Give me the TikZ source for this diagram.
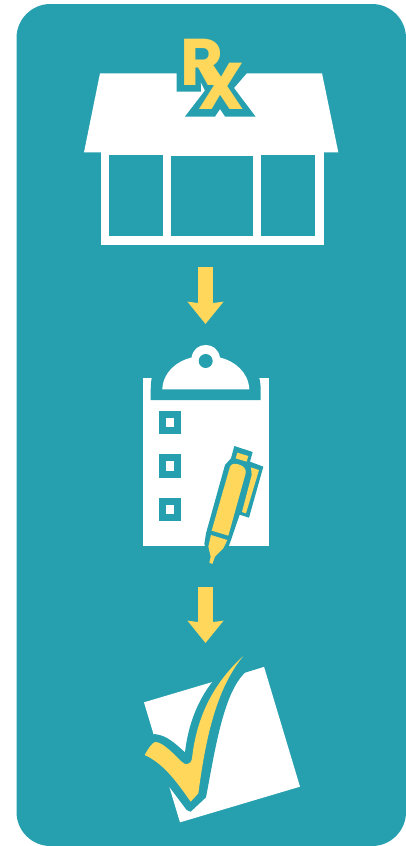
\documentclass[tikz,border=0pt]{standalone}
\usepackage{fontspec}
\usepackage{xcolor}
\usetikzlibrary{arrows.meta}
\newfontfamily\rxfont{Poppins}
\definecolor{panelteal}{HTML}{26A0AF}
\definecolor{penyellow}{HTML}{FFD75A}
\colorlet{paper}{white}
\tikzstyle{panel} = [fill=panelteal, draw=none, rounded corners=34pt]
\tikzstyle{whiteshape} = [fill=paper, draw=none]
\tikzstyle{tealshape} = [fill=panelteal, draw=none]
\tikzstyle{yellowshape} = [fill=penyellow, draw=none]
\tikzstyle{flowarrow} = [draw=penyellow, line width=15pt, -{Stealth[length=22pt, width=35pt, inset=2pt]}]
\tikzstyle{rxletter} = [text=penyellow, inner sep=0pt, anchor=base west, font=\rxfont\bfseries\fontsize{66}{66}\selectfont]

\begin{document}
\begin{tikzpicture}[x=1pt, y=-1pt]
\useasboundingbox (0, 0) rectangle (406, 846);
\fill[white] (0, 0) rectangle (406, 846);
% Panel
\fill[panel] (16.5, 4) rectangle (406, 846);

% Store, roof then frame and windows
\fill[whiteshape] (100, 73.3) -- (322, 73.3) -- (338.3, 152.3) -- (84, 152.3) -- cycle;
\fill[whiteshape] (100.5, 150) rectangle (324, 244.5);
\fill[tealshape] (109, 155.3) rectangle (162.7, 236);
\fill[tealshape] (171.3, 156) rectangle (252.7, 236);
\fill[tealshape] (261.3, 155.3) rectangle (315.3, 236);
% Rx sign
\fill[tealshape] (176.7, 60) -- (176.7, 91.7) -- (201, 91.7) -- (200.7, 82) -- (205, 90.5) -- (185, 116.5)
  -- (215, 116.5) -- (220, 109) -- (225, 116.5) -- (255.5, 116.5) -- (234, 88) -- (246.7, 73.3) -- (246.7, 60) -- cycle;
\node[rxletter] (letterr) at (180, 85.5) {R};
\node[rxletter] (letterx) at (197, 109.5) {X};

% Clipboard
\fill[whiteshape] (143, 377.7) rectangle (268.7, 546);
\fill[tealshape] (151.7, 377.7) .. controls (150.7, 385) .. (150.7, 400) -- (260.7, 400)
  .. controls (260.7, 385) .. (259.3, 377.7) -- cycle;
% Clip
\fill[whiteshape] (162.3, 389.3) .. controls (163, 372) and (177, 361) .. (191.5, 357.5)
  .. controls (193, 349) and (199, 345) .. (205.7, 345)
  .. controls (212.5, 345) and (218.5, 349) .. (220, 357.5)
  .. controls (234.5, 361) and (248.5, 372) .. (249.3, 389.3) -- cycle;
\fill[tealshape] (205.7, 361) circle (7);
% Check boxes
\fill[tealshape] (158.7, 411) rectangle (180.7, 434.3);
\fill[whiteshape] (165.7, 418) rectangle (174, 427.3);
\fill[tealshape] (158.7, 454.3) rectangle (180.7, 477.7);
\fill[whiteshape] (165.7, 461.3) rectangle (174, 470.7);
\fill[tealshape] (158.7, 497.7) rectangle (180.7, 521);
\fill[whiteshape] (165.7, 504.7) rectangle (174, 514);
% Pen
\begin{scope}[shift={(195, 440)}, scale=1/3]
\fill[tealshape] (118, 18) -- (173, 36) -- (165, 65) -- (205, 80) -- (162, 233) -- (134, 224) -- (108, 300)
  -- (100, 322) -- (65, 352) -- (53, 375) -- (42, 372) -- (42, 352) -- (28, 312) -- (33, 280) -- (90, 75) -- (108, 55) -- cycle;
\fill[yellowshape] (127, 38) -- (160, 48) -- (155, 65) -- (122, 55) -- cycle;
\fill[yellowshape] (105, 80) .. controls (110, 70) and (120, 70) .. (130, 73) .. controls (148, 78) and (154, 88) .. (152, 100)
  -- (100, 287) -- (50, 272) -- cycle;
\fill[yellowshape] (48, 285) -- (97, 300) -- (85, 325) -- (60, 350) -- (52, 372) -- (43, 368) -- (47, 350) -- (40, 320) -- cycle;
\fill[yellowshape] (168, 82) -- (192, 90) -- (153, 220) -- (141, 216) -- (170, 105) -- cycle;
\end{scope}

% Signed sheet with tick
\begin{scope}[shift={(130, 650)}, scale=1/3]
\fill[whiteshape] (42, 157) -- (402, 50) -- (510, 410) -- (150, 517) -- cycle;
\fill[tealshape] (246, 97) .. controls (205, 150) and (175, 220) .. (165, 307) .. controls (135, 280) and (110, 255) .. (72, 252)
  -- (30, 300) -- (116, 408) -- (170, 480) -- (182, 485) -- (228, 442) .. controls (255, 300) and (280, 130) .. (345, 68)
  -- (402, 50) -- (380, 0) -- (246, 40) -- cycle;
\fill[yellowshape] (340, 18) .. controls (250, 100) and (200, 200) .. (186, 325) .. controls (183, 345) and (165, 347) .. (155, 335)
  .. controls (125, 305) and (95, 275) .. (75, 276) .. controls (65, 280) and (55, 295) .. (44, 315)
  .. controls (100, 340) and (140, 395) .. (182, 455) -- (205, 430) .. controls (225, 280) and (255, 120) .. (340, 18) -- cycle;
\end{scope}

% Arrows
\coordinate (arrowatop) at (205.5, 267);
\coordinate (arrowaend) at (205.5, 324);
\coordinate (arrowbtop) at (205.5, 587);
\coordinate (arrowbend) at (205.5, 643);
\draw[flowarrow] (arrowatop) -- (arrowaend);
\draw[flowarrow] (arrowbtop) -- (arrowbend);
\end{tikzpicture}
\end{document}
